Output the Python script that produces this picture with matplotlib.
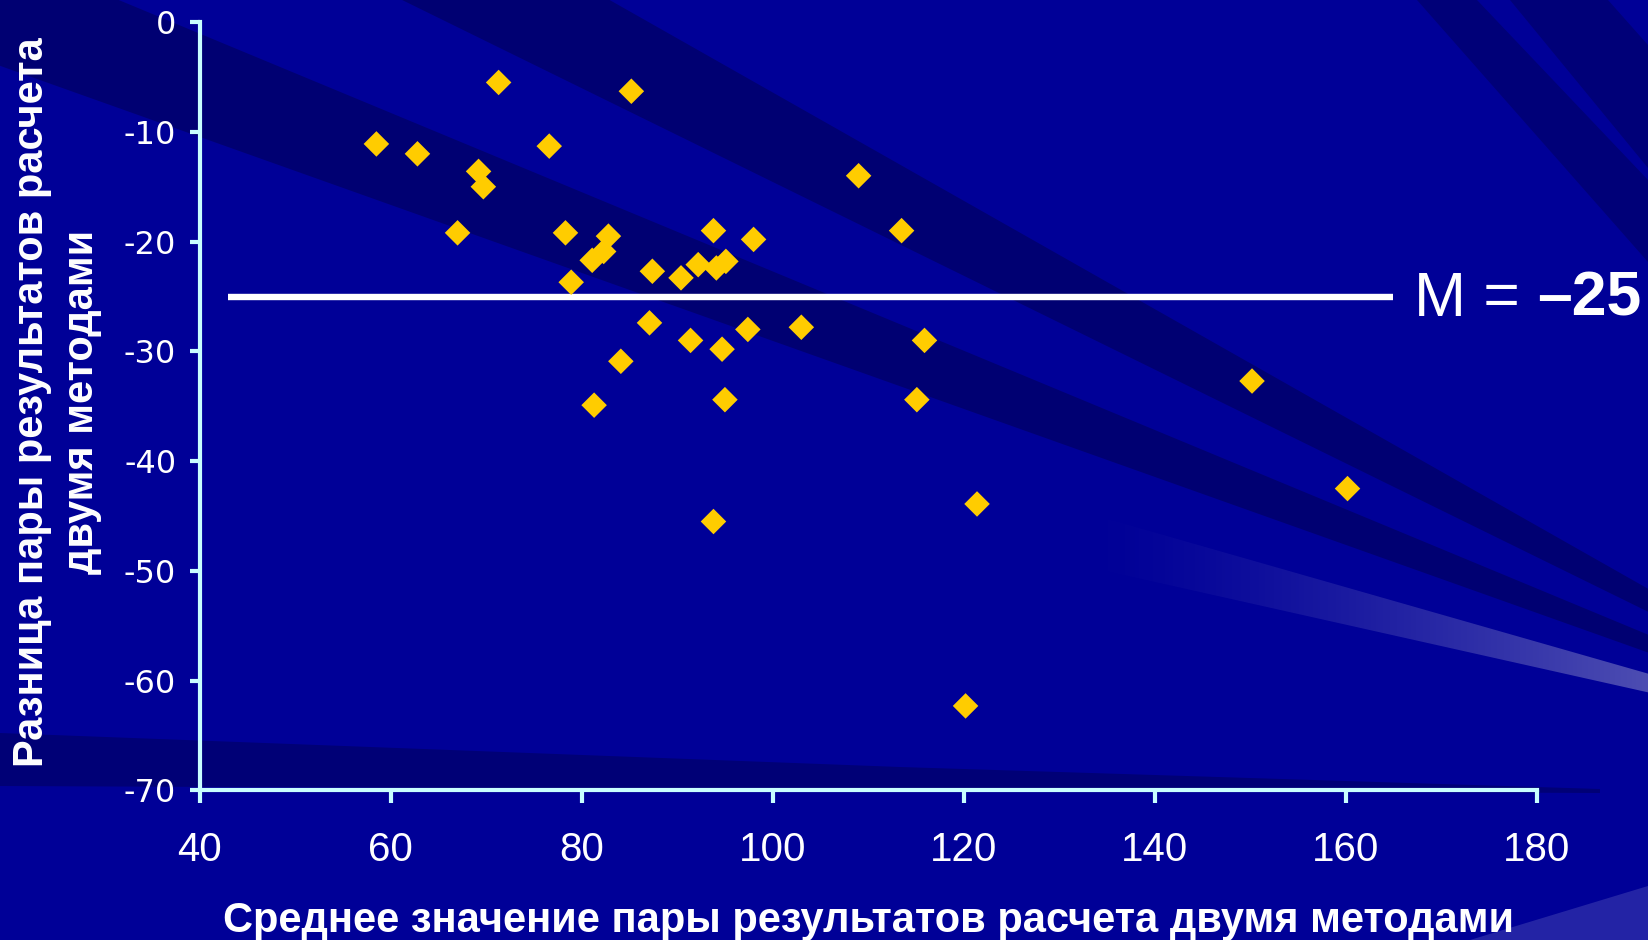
import numpy as np
import matplotlib
matplotlib.use("Agg")
import matplotlib.pyplot as plt
from matplotlib.patches import Polygon

# pairwise comparison of two calculation methods (Bland-Altman style)
mean_value = [58.5, 62.8, 71.3, 69.2, 69.7, 67.0, 76.6, 85.2, 78.3, 82.8,
              82.3, 81.1, 78.9, 87.4, 90.4, 92.2, 93.8, 94.1, 95.1, 98.0,
              87.1, 91.4, 94.7, 97.4, 103.0, 84.1, 81.3, 95.0, 93.8, 109.0,
              113.5, 115.9, 115.1, 121.4, 120.2, 150.2, 160.2]
difference = [-11.1, -12.0, -5.5, -13.6, -15.0, -19.2, -11.3, -6.3, -19.2, -19.5,
              -20.9, -21.7, -23.7, -22.7, -23.3, -22.1, -19.0, -22.4, -21.8, -19.8,
              -27.4, -29.0, -29.8, -28.0, -27.8, -30.9, -34.9, -34.4, -45.5, -14.0,
              -19.0, -29.0, -34.4, -43.9, -62.3, -32.7, -42.5]
mean_diff = -25

x_ticks = [40, 60, 80, 100, 120, 140, 160, 180]
y_ticks = [0, -10, -20, -30, -40, -50, -60, -70]

x_title = "Среднее значение пары результатов расчета двумя методами"
y_title = "Разница пары результатов расчета\nдвумя методами"

W, H = 1648, 940
BASE = "#000097"
DARK = "#000072"
AXIS_COLOR = "#c8ffff"
MARKER_COLOR = "#ffcc00"
FONT = "Liberation Sans"

plt.rcParams["axes.unicode_minus"] = False

fig = plt.figure(figsize=(W / 100, H / 100), dpi=100)
fig.patch.set_facecolor(BASE)

# --- slide background: rays fanning out from a point right of the slide ---
bg = fig.add_axes([0, 0, 1, 1], zorder=-10)
bg.set_xlim(0, W)
bg.set_ylim(H, 0)
bg.axis("off")

ox, oy = 1950, 760


def ray_wedge(s1, s2, **kw):
    far = 2600
    pts = [(ox, oy), (ox - far, oy - far * s1), (ox - far, oy - far * s2)]
    patch = Polygon(pts, closed=True, edgecolor="none", **kw)
    bg.add_patch(patch)
    return patch


def band(pts, color, alpha=1.0):
    bg.add_patch(Polygon(pts, closed=True, facecolor=color, edgecolor="none", alpha=alpha))


ray_wedge(0.491, 0.567, facecolor=DARK)
ray_wedge(0.356, 0.415, facecolor=DARK)

# steep stripes in the top right corner
band([(1417, 0), (1477, 0), (1648, 180), (1648, 262)], "#000078")
band([(1510, 0), (1608, 0), (1648, 45), (1648, 168)], "#000078")

# dark band running just above the x axis
band([(0, 733), (900, 767), (1600, 789), (1600, 793), (0, 786)], "#000076")

# light streak fading in towards the right edge
streak = ray_wedge(0.224, 0.286, facecolor="none")
ramp = np.linspace(0, 1, 256) ** 1.4
rgba = np.zeros((1, 256, 4))
rgba[..., 0] = 0.36
rgba[..., 1] = 0.36
rgba[..., 2] = 0.72
rgba[..., 3] = ramp * 0.85
img = bg.imshow(rgba, extent=(1080, W, H, 0), aspect="auto", interpolation="bilinear")
img.set_clip_path(streak)

band([(1470, H), (W, 886), (W, H)], "#2a2aa8", 0.85)

# --- chart ---
ax = fig.add_axes([0.1212, 0.1591, 0.8112, 0.8174])
ax.patch.set_alpha(0)
ax.set_xlim(40, 180)
ax.set_ylim(-70, 0)
ax.set_xticks(x_ticks)
ax.set_yticks(y_ticks)

for side in ["top", "right"]:
    ax.spines[side].set_visible(False)
for side in ["left", "bottom"]:
    ax.spines[side].set_color(AXIS_COLOR)
    ax.spines[side].set_linewidth(3)

ax.tick_params(axis="y", direction="out", length=7, width=3, color=AXIS_COLOR,
               labelcolor="white", labelsize=23, pad=10)
ax.tick_params(axis="x", direction="out", length=9, width=3, color=AXIS_COLOR,
               labelcolor="white", labelsize=29, pad=20)
for lbl in ax.get_yticklabels():
    lbl.set_family("DejaVu Sans")
for lbl in ax.get_xticklabels():
    lbl.set_family(FONT)

ax.scatter(mean_value, difference, marker="D", s=13 ** 2, color=MARKER_COLOR,
           edgecolors="none", zorder=3, clip_on=False)

ax.plot([43, 165], [mean_diff, mean_diff], color="white", lw=4.6,
        solid_capstyle="butt", zorder=2)

t1 = ax.annotate("M = ", xy=(167.2, mean_diff), xytext=(0, -14), textcoords="offset points",
                 ha="left", va="baseline", fontsize=45, family=FONT,
                 color="white", annotation_clip=False)
ax.annotate("\u2013" + str(abs(mean_diff)), xy=(1, 0), xycoords=t1, ha="left", va="bottom",
            fontsize=45, family=FONT, fontweight="bold", color="white")

fig.text(0.527, 1 - 921 / H, x_title, ha="center", va="center", fontsize=30,
         fontweight="bold", family=FONT, color="white")
fig.text(57 / W, 1 - 402 / H, y_title, rotation=90, ha="center", va="center",
         multialignment="center", linespacing=1.3, fontsize=30,
         fontweight="bold", family=FONT, color="white")

fig.savefig("out.png", dpi=100, facecolor=fig.get_facecolor())
